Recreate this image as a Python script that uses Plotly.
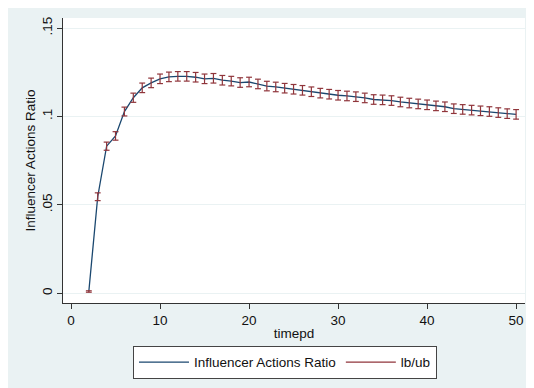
import plotly.graph_objects as go

# ---- data ----
timepd = list(range(2, 51))
ratio = [0.0010, 0.0546, 0.0832, 0.0890, 0.1028, 0.1106, 0.1162, 0.1190, 0.1213,
         0.1224, 0.1227, 0.1227, 0.1222, 0.1213, 0.1216, 0.1205, 0.1200, 0.1192,
         0.1195, 0.1184, 0.1172, 0.1167, 0.1160, 0.1154, 0.1148, 0.1140, 0.1132,
         0.1126, 0.1120, 0.1116, 0.1112, 0.1105, 0.1096, 0.1094, 0.1090, 0.1082,
         0.1076, 0.1071, 0.1066, 0.1060, 0.1055, 0.1044, 0.1040, 0.1036, 0.1032,
         0.1028, 0.1022, 0.1016, 0.1012]
half_ci = [0.0004, 0.0022, 0.0023, 0.0024, 0.0025, 0.0026, 0.0027, 0.0027, 0.0027,
           0.0027, 0.0027, 0.0027, 0.0027, 0.0027, 0.0027, 0.0027, 0.0027, 0.0027,
           0.0027, 0.0027, 0.0027, 0.0027, 0.0027, 0.0027, 0.0027, 0.0027, 0.0027,
           0.0027, 0.0027, 0.0027, 0.0027, 0.0027, 0.0027, 0.0027, 0.0027, 0.0027,
           0.0027, 0.0027, 0.0027, 0.0027, 0.0027, 0.0027, 0.0027, 0.0027, 0.0027,
           0.0027, 0.0027, 0.0027, 0.0027]
lb = [r - h for r, h in zip(ratio, half_ci)]
ub = [r + h for r, h in zip(ratio, half_ci)]

x_ticks = [0, 10, 20, 30, 40, 50]
y_ticks = [0, 0.05, 0.10, 0.15]
y_ticktext = ["0", ".05", ".1", ".15"]

NAVY = "#1a476f"
MAROON = "#90353b"
BG = "#eaf2f3"
FONT = "Liberation Sans, Arial, sans-serif"
FS = 13.5

# capped range segments (rcap) built from lb/ub
cap = 0.33
cx, cy = [], []
for t, lo, hi in zip(timepd, lb, ub):
    cx += [t - cap, t + cap, None, t, t, None, t - cap, t + cap, None]
    cy += [lo, lo, None, lo, hi, None, hi, hi, None]

fig = go.Figure()
fig.add_trace(go.Scatter(x=timepd, y=ratio, mode="lines", name="Influencer Actions Ratio",
                         line=dict(color=NAVY, width=1.3)))
fig.add_trace(go.Scatter(x=cx, y=cy, mode="lines", name="lb/ub",
                         line=dict(color=MAROON, width=1.2), connectgaps=False))

fig.update_layout(
    width=526, height=380,
    margin=dict(l=55, r=9, t=10, b=85),
    paper_bgcolor=BG, plot_bgcolor="white",
    font=dict(family=FONT, size=FS, color="#111"),
    showlegend=True,
    legend=dict(orientation="h", x=0.1515, y=-0.15, xanchor="left", yanchor="top",
                bgcolor="white", bordercolor="#444", borderwidth=1,
                itemwidth=50, font=dict(size=FS), traceorder="normal"),
    xaxis=dict(range=[-0.9, 51.0], tickvals=x_ticks, ticks="outside", ticklen=5,
               tickcolor="#333", showline=True, linecolor="#333", linewidth=1,
               showgrid=False, zeroline=False, tickfont=dict(size=FS),
               title=dict(text="timepd", standoff=1, font=dict(size=FS))),
    yaxis=dict(range=[-0.0055, 0.1557], tickvals=y_ticks, ticktext=y_ticktext,
               tickangle=-90, ticks="outside", ticklen=5, tickcolor="#333",
               showline=True, linecolor="#333", linewidth=1, tickfont=dict(size=FS),
               showgrid=True, gridcolor=BG, gridwidth=1, zeroline=False,
               title=dict(text="Influencer Actions Ratio", standoff=0, font=dict(size=FS))),
)

fig.write_html("out.html")
